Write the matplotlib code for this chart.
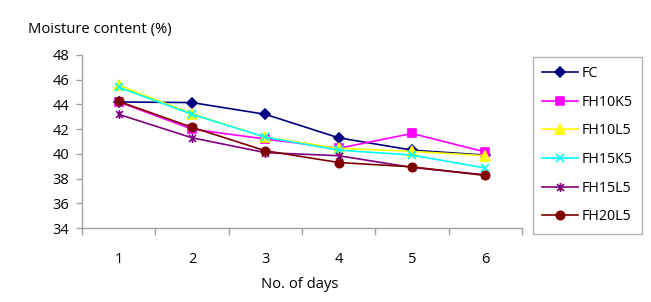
import matplotlib
matplotlib.use("Agg")
import matplotlib.pyplot as plt
from matplotlib.path import Path

days = [1, 2, 3, 4, 5, 6]
FC = [44.2, 44.15, 43.2, 41.3, 40.3, 39.9]
FH10K5 = [44.2, 42.0, 41.2, 40.45, 41.65, 40.15]
FH10L5 = [45.55, 43.25, 41.35, 40.45, 40.2, 39.85]
FH15K5 = [45.4, 43.2, 41.35, 40.3, 39.9, 38.85]
FH15L5 = [43.2, 41.3, 40.1, 39.85, 38.9, 38.3]
FH20L5 = [44.25, 42.15, 40.25, 39.3, 38.95, 38.25]

plt.rcParams['font.family'] = ['Open Sans', 'DejaVu Sans']

fig = plt.figure(figsize=(6.51, 3.02), dpi=100)
W, H = 651, 302
ax = fig.add_axes([82 / W, 1 - 228 / H, (522 - 82) / W, (228 - 55) / H])

star = Path([(-1, -1), (1, 1), (-1, 1), (1, -1), (0, -1.3), (0, 1.3)],
            [Path.MOVETO, Path.LINETO, Path.MOVETO, Path.LINETO, Path.MOVETO, Path.LINETO])

series = [
    ("FC", FC, "#000080", "D", 5),
    ("FH10K5", FH10K5, "#FF00FF", "s", 5.5),
    ("FH10L5", FH10L5, "#FFFF00", "^", 6.5),
    ("FH15K5", FH15K5, "#00FFFF", "x", 6),
    ("FH15L5", FH15L5, "#800080", star, 6.5),
    ("FH20L5", FH20L5, "#800000", "o", 6),
]
for name, vals, col, mk, ms in series:
    ax.plot(days, vals, color=col, marker=mk, markersize=ms, linewidth=1.2,
            markeredgewidth=1.2, label=name)

ax.set_xlim(0.5, 6.5)
ax.set_ylim(34, 48)
ax.set_yticks(range(34, 49, 2))
ax.set_xticks(days)
ax.set_xticks([0.5 + i for i in range(7)], minor=True)
ax.tick_params(axis='x', which='major', length=0, pad=17, labelsize=10.5)
ax.tick_params(axis='x', which='minor', length=5, color='#A0A0A0', width=1)
ax.tick_params(axis='y', length=4, color='#A0A0A0', width=1, labelsize=10.5, pad=5)
for s in ['top', 'right']:
    ax.spines[s].set_visible(False)
for s in ['left', 'bottom']:
    ax.spines[s].set_color('#A0A0A0')
    ax.spines[s].set_linewidth(1)

fig.text(28 / W, 1 - 29 / H, "Moisture content (%)", fontsize=10.6, va='center', ha='left')
fig.text(300 / W, 1 - 285 / H, "No. of days", fontsize=10.6, va='center', ha='center')

leg = fig.legend(loc='upper left', bbox_to_anchor=(533 / W, 1 - 57 / H), frameon=True,
                 fancybox=False, edgecolor='#A0A0A0', fontsize=10.3, handlelength=2.5,
                 labelspacing=0.95, borderpad=0.65, handletextpad=0.25, borderaxespad=0)
leg.get_frame().set_linewidth(1)

fig.savefig("out.png", dpi=100)
